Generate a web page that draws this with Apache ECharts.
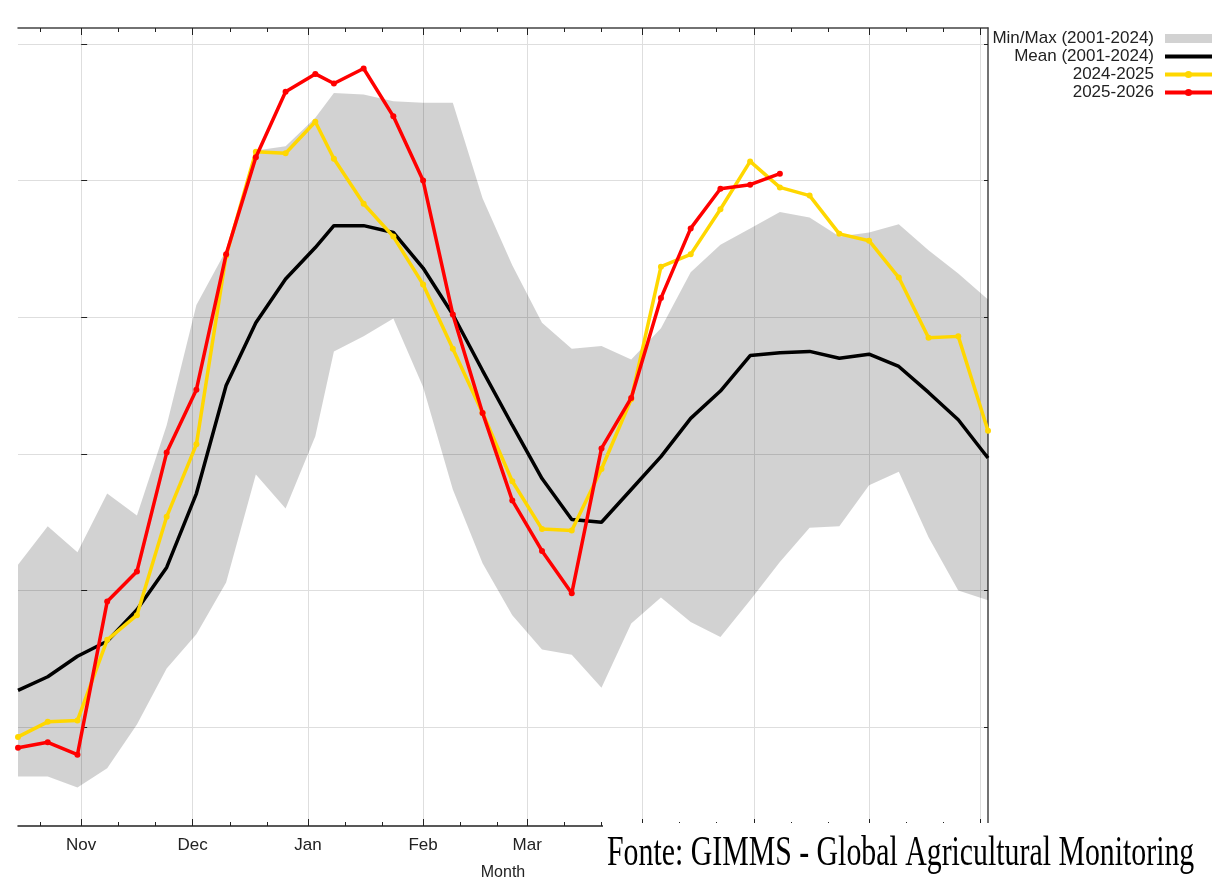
<!DOCTYPE html>
<html>
<head>
<meta charset="utf-8">
<script src="https://cdn.jsdelivr.net/npm/echarts@6/dist/echarts.min.js"></script>
<style>
html,body{margin:0;padding:0;background:#fff;}
#chart{width:1216px;height:885px;}
</style>
</head>
<body>
<div id="chart"></div>
<script>
// x values: days relative to 1 Nov (end of each 8-day composite)
const pointDays = [-17,-9,-1,7,15,23,31,39,47,55,63,68,76,84,92,100,108,116,124,132,140,148,156,164,172,180,188,196,204,212,220,228,236,244];
const minBand = [0.264,0.264,0.256,0.270,0.302,0.343,0.368,0.406,0.485,0.460,0.513,0.575,0.586,0.599,0.549,0.474,0.420,0.382,0.357,0.353,0.329,0.376,0.395,0.377,0.366,0.393,0.421,0.446,0.447,0.477,0.487,0.439,0.400,0.393];
const maxBand = [0.419,0.447,0.428,0.471,0.455,0.521,0.609,0.649,0.722,0.725,0.746,0.764,0.763,0.758,0.757,0.757,0.687,0.638,0.596,0.577,0.579,0.569,0.592,0.633,0.653,0.665,0.677,0.673,0.659,0.662,0.668,0.649,0.632,0.613];
const meanValues = [0.327,0.337,0.352,0.363,0.386,0.417,0.471,0.550,0.596,0.628,0.651,0.667,0.667,0.662,0.636,0.602,0.561,0.521,0.482,0.452,0.450,0.474,0.498,0.526,0.546,0.572,0.574,0.575,0.570,0.573,0.564,0.545,0.525,0.497];
const values2425 = [0.293,0.304,0.305,0.364,0.382,0.454,0.507,0.645,0.721,0.720,0.743,0.716,0.683,0.659,0.624,0.577,0.530,0.480,0.445,0.444,0.489,0.540,0.637,0.646,0.679,0.714,0.695,0.689,0.661,0.656,0.629,0.585,0.586,0.517];
const values2526 = [0.285,0.289,0.280,0.392,0.414,0.501,0.547,0.646,0.717,0.765,0.778,0.771,0.782,0.747,0.700,0.602,0.530,0.466,0.429,0.398,0.504,0.541,0.614,0.665,0.694,0.697,0.705];
// axis ticks
const monthStartDays = [0,30,61,92,120,151,181,212,242];
const dekadDays = [-11,10,20,40,50,71,81,102,112,130,140,161,171,191,201,222,232];
const monthLabelDays = [0,30,61,92,120];
const monthLabels = ['Nov','Dec','Jan','Feb','Mar'];
const yGridValues = [0.3,0.4,0.5,0.6,0.7,0.8];
const xMin = -17, xMax = 244, yMin = 0.2278, yMax = 0.8116;
const seriesNames = ['Min/Max (2001-2024)','Mean (2001-2024)','2024-2025','2025-2026'];
const sourceText = 'Fonte: GIMMS - Global Agricultural Monitoring';

const pairs = (vals) => vals.map((v, i) => [pointDays[i], v]);
const FONT = 'Liberation Sans, Arial, sans-serif';
const AX = '#222';
const GRID = '#dedede';

function xAx(extra) {
  return Object.assign({
    type: 'value', min: xMin, max: xMax, gridIndex: 0,
    axisLine: {show: false}, axisLabel: {show: false}, splitLine: {show: false},
    axisTick: {show: false}
  }, extra);
}
function yAx(extra) {
  return Object.assign({
    type: 'value', min: yMin, max: yMax,
    axisLine: {show: false}, axisLabel: {show: false}, splitLine: {show: false},
    axisTick: {show: false}
  }, extra);
}

const chart = echarts.init(document.getElementById('chart'), null, {renderer: 'canvas'});
chart.setOption({
  animation: false,
  backgroundColor: '#fff',
  grid: {left: 18, right: 228, top: 28, bottom: 59, containLabel: false, outerBoundsMode: 'none'},
  xAxis: [
    xAx({position: 'bottom',
      axisLine: {show: true, onZero: false, lineStyle: {color: AX, width: 1.5}},
      axisTick: {show: true, inside: true, length: 4, customValues: dekadDays, lineStyle: {color: AX}}}),
    xAx({position: 'bottom',
      axisTick: {show: true, inside: true, length: 7, customValues: monthStartDays, lineStyle: {color: AX}},
      splitLine: {show: true, lineStyle: {color: GRID, width: 1}},
      axisLabel: {show: true, customValues: monthLabelDays, margin: 11, fontFamily: FONT, fontSize: 17, color: AX,
        formatter: (v) => monthLabels[monthLabelDays.indexOf(v)]},
      name: 'Month', nameLocation: 'middle', nameGap: 39,
      nameTextStyle: {fontFamily: FONT, fontSize: 16, color: AX}}),
    xAx({position: 'top',
      axisLine: {show: true, onZero: false, lineStyle: {color: '#444', width: 1.5}},
      axisTick: {show: true, inside: true, length: 4, customValues: dekadDays, lineStyle: {color: AX}}}),
    xAx({position: 'top',
      axisTick: {show: true, inside: true, length: 7, customValues: monthStartDays, lineStyle: {color: AX}}})
  ],
  yAxis: [
    yAx({position: 'left',
      axisTick: {show: true, inside: true, length: 6, customValues: yGridValues, lineStyle: {color: AX}},
      splitLine: {show: true, lineStyle: {color: GRID, width: 1}}}),
    yAx({position: 'right',
      axisLine: {show: true, onZero: false, lineStyle: {color: '#444', width: 1.5}},
      axisTick: {show: true, inside: true, length: 4, customValues: yGridValues, lineStyle: {color: AX}}})
  ],
  legend: {
    orient: 'vertical', right: 2, top: 30, align: 'right', padding: 0,
    itemWidth: 47, itemHeight: 9, itemGap: 1,
    lineStyle: {width: 4},
    textStyle: {fontFamily: FONT, fontSize: 17, color: '#222', padding: [0, 6, 0, 0]},
    data: [
      {name: seriesNames[0], icon: 'rect'},
      {name: seriesNames[1], itemStyle: {opacity: 0}},
      seriesNames[2],
      seriesNames[3]
    ]
  },
  series: [
    {
      name: seriesNames[0], type: 'custom', xAxisIndex: 0, yAxisIndex: 0,
      itemStyle: {color: 'rgba(0,0,0,0.175)'},
      data: [[pointDays[0], maxBand[0]]],
      renderItem: function (params, api) {
        if (params.dataIndex !== 0) return;
        const pts = [];
        for (let i = 0; i < pointDays.length; i++) pts.push(api.coord([pointDays[i], maxBand[i]]));
        for (let i = pointDays.length - 1; i >= 0; i--) pts.push(api.coord([pointDays[i], minBand[i]]));
        return {type: 'polygon', shape: {points: pts}, style: {fill: 'rgba(0,0,0,0.175)'}, silent: true};
      },
      z: 1
    },
    {
      name: seriesNames[1], type: 'line', xAxisIndex: 0, yAxisIndex: 0,
      data: pairs(meanValues), showSymbol: false, symbol: 'none',
      lineStyle: {color: '#000', width: 3.5}, itemStyle: {color: '#000'}, z: 3
    },
    {
      name: seriesNames[2], type: 'line', xAxisIndex: 0, yAxisIndex: 0,
      data: pairs(values2425), symbol: 'circle', symbolSize: 6,
      lineStyle: {color: '#ffd700', width: 3.5}, itemStyle: {color: '#ffd700'}, z: 4
    },
    {
      name: seriesNames[3], type: 'line', xAxisIndex: 0, yAxisIndex: 0,
      data: pairs(values2526), symbol: 'circle', symbolSize: 6,
      lineStyle: {color: '#ff0000', width: 3.5}, itemStyle: {color: '#ff0000'}, z: 5
    }
  ],
  graphic: [
    {type: 'rect', z: 100, shape: {x: 603, y: 823, width: 613, height: 62}, style: {fill: '#fff'}, silent: true},
    {type: 'text', z: 101, x: 607, y: 854, scaleX: 0.71,
      style: {text: sourceText, fontFamily: 'Liberation Serif, Times New Roman, serif', fontSize: 42,
        fill: '#000', verticalAlign: 'middle', align: 'left'}}
  ]
});
</script>
</body>
</html>
